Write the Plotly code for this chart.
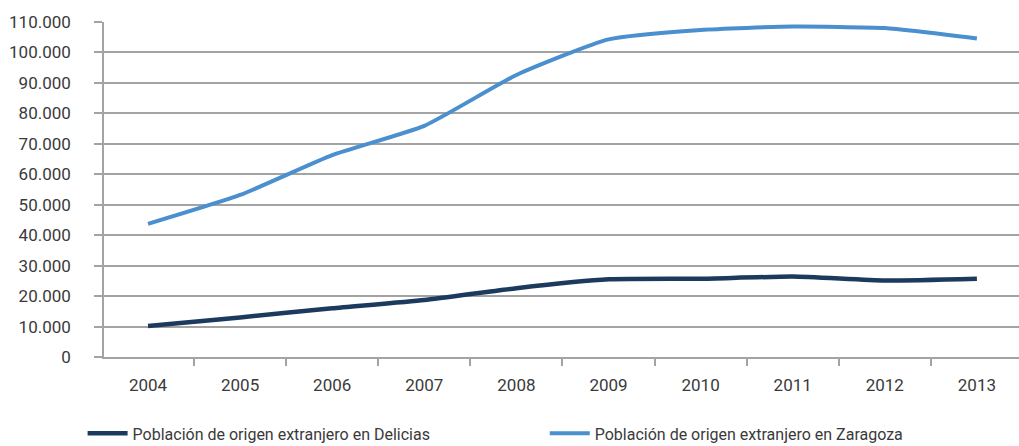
import plotly.graph_objects as go

years = ["2004", "2005", "2006", "2007", "2008", "2009", "2010", "2011", "2012", "2013"]
delicias = [10200, 13000, 16000, 18700, 22600, 25500, 25700, 26400, 25100, 25700]
zaragoza = [43700, 53200, 66300, 75900, 92600, 104300, 107400, 108500, 108000, 104600]
y_ticks = list(range(0, 110001, 10000))

xpos = list(range(len(years)))

fig = go.Figure()
fig.add_trace(go.Scatter(
    x=xpos, y=delicias, mode="lines",
    name="Población de origen extranjero en Delicias",
    line=dict(color="#1b3a5e", width=4.5, shape="spline", smoothing=0.5),
    legend="legend",
))
fig.add_trace(go.Scatter(
    x=xpos, y=zaragoza, mode="lines",
    name="Población de origen extranjero en Zaragoza",
    line=dict(color="#4a8fce", width=4, shape="spline", smoothing=0.5),
    legend="legend2",
))

grid = "#a3a3a3"
leg_font = dict(size=16, color="#3a3a3a")
fig.update_layout(
    width=1019, height=446,
    margin=dict(l=104, r=0, t=22, b=89, autoexpand=False),
    paper_bgcolor="white", plot_bgcolor="white",
    separators=",.",
    font=dict(family="Roboto, Liberation Sans, sans-serif", color="#3a3a3a"),
    showlegend=True,
    legend=dict(
        orientation="h", x=-0.0234, xanchor="left", y=-0.228, yanchor="middle",
        font=leg_font, itemwidth=40, bgcolor="rgba(0,0,0,0)",
    ),
    legend2=dict(
        orientation="h", x=0.4817, xanchor="left", y=-0.228, yanchor="middle",
        font=leg_font, itemwidth=40, bgcolor="rgba(0,0,0,0)",
    ),
    xaxis=dict(
        range=[-0.478, 9.457], automargin=False,
        tickmode="array", tickvals=xpos, ticktext=years,
        ticks="", showgrid=False, zeroline=False,
        showline=True, linecolor=grid, linewidth=1.5,
        tickfont=dict(size=17, color="#3a3a3a"),
        ticklabelstandoff=12,
        minor=dict(tickmode="array", tickvals=[i + 0.5 for i in range(9)],
                   ticks="outside", ticklen=7, tickcolor=grid, tickwidth=1.5,
                   showgrid=False),
    ),
    yaxis=dict(
        range=[0, 110000], automargin=False,
        tickmode="array", tickvals=y_ticks,
        tickformat=",d",
        showgrid=True, gridcolor=grid, gridwidth=1.5,
        zeroline=False,
        showline=True, linecolor=grid, linewidth=1.5,
        ticks="outside", ticklen=8, tickcolor=grid, tickwidth=1.5,
        tickfont=dict(size=17, color="#3a3a3a"),
        ticklabelstandoff=20,
    ),
)

fig.write_html("out.html", config={"displayModeBar": False},
               post_script="document.body.style.margin='0';")
